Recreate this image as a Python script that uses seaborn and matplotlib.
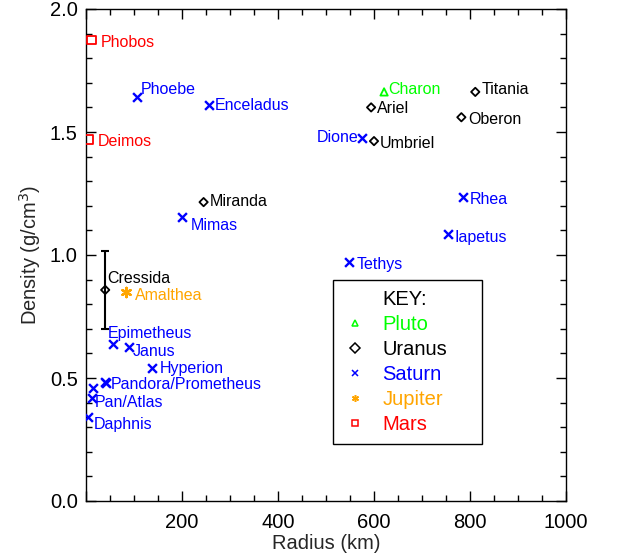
import pandas as pd
import seaborn as sns
import matplotlib.pyplot as plt
from matplotlib.lines import Line2D
from matplotlib.ticker import MultipleLocator

# moon data
moons = ['Phobos', 'Deimos',
         'Phoebe', 'Enceladus', 'Dione', 'Mimas', 'Rhea', 'Iapetus', 'Tethys',
         'Epimetheus', 'Janus', 'Hyperion', 'Pandora', 'Prometheus', 'Atlas', 'Pan', 'Daphnis',
         'Titania', 'Ariel', 'Oberon', 'Umbriel', 'Miranda', 'Cressida',
         'Charon', 'Amalthea']
radius = [11, 6,
          107, 257, 576, 201, 785, 755, 548,
          57, 90, 138, 40, 42, 14.5, 12.5, 3.8,
          811, 594, 782, 600, 245, 40,
          621, 84]
density = [1.874, 1.47,
           1.642, 1.61, 1.476, 1.154, 1.236, 1.085, 0.97,
           0.638, 0.626, 0.54, 0.484, 0.478, 0.46, 0.42, 0.34,
           1.663, 1.60, 1.56, 1.463, 1.215, 0.858,
           1.663, 0.85]
planet = ['Mars'] * 2 + ['Saturn'] * 15 + ['Uranus'] * 6 + ['Pluto', 'Jupiter']
point_labels = ['Phobos', 'Deimos',
                'Phoebe', 'Enceladus', 'Dione', 'Mimas', 'Rhea', 'Iapetus', 'Tethys',
                'Epimetheus', 'Janus', 'Hyperion', 'Pandora/Prometheus', '', '', 'Pan/Atlas', 'Daphnis',
                'Titania', 'Ariel', 'Oberon', 'Umbriel', 'Miranda', 'Cressida',
                'Charon', 'Amalthea']
cressida_err = 0.16

key_order = ['Pluto', 'Uranus', 'Saturn', 'Jupiter', 'Mars']

df = pd.DataFrame({'moon': moons, 'radius': radius, 'density': density,
                   'planet': planet, 'label': point_labels})

# styles
colors = {'Pluto': '#00ff00', 'Uranus': 'black', 'Saturn': '#0000ff',
          'Jupiter': '#ffa500', 'Mars': '#ff0000'}
markers = {'Pluto': '^', 'Uranus': 'D', 'Saturn': 'x', 'Jupiter': (6, 2, 0), 'Mars': 's'}
sizes = {'Pluto': 28, 'Uranus': 18, 'Saturn': 40, 'Jupiter': 45, 'Mars': 38}
filled = {'Pluto': False, 'Uranus': False, 'Saturn': True, 'Jupiter': True, 'Mars': False}

# label offsets in pixels (dx, dy, ha)
offsets = {'Phobos': (9, -3, 'left'), 'Deimos': (9, -2, 'left'), 'Phoebe': (3, 8, 'left'),
           'Enceladus': (5, -1, 'left'), 'Dione': (-4, 0, 'right'), 'Mimas': (8, -8, 'left'),
           'Rhea': (7, -3, 'left'), 'Iapetus': (6, -3, 'left'), 'Tethys': (8, -2, 'left'),
           'Epimetheus': (-6, 11, 'left'), 'Janus': (4, -4, 'left'), 'Hyperion': (8, 0, 'left'),
           'Pandora': (6, -3, 'left'), 'Pan': (3, -5, 'left'), 'Daphnis': (6, -7, 'left'),
           'Titania': (6, 2, 'left'), 'Ariel': (6, -1, 'left'), 'Oberon': (7, -2, 'left'),
           'Umbriel': (6, -2, 'left'), 'Miranda': (6, 1, 'left'), 'Cressida': (2, 11, 'left'),
           'Charon': (4, 2, 'left'), 'Amalthea': (9, -4, 'left')}

sns.set_style('ticks')
plt.rcParams['font.family'] = ['Liberation Sans', 'DejaVu Sans']

fig, ax = plt.subplots(figsize=(6.17, 5.56), dpi=100)
fig.subplots_adjust(left=86/617, right=566/617, top=1-9/556, bottom=1-501/556)

# Cressida error bar
cr = df[df['moon'] == 'Cressida']
ax.errorbar(cr['radius'], cr['density'], yerr=cressida_err, fmt='none',
            ecolor='black', elinewidth=1.5, capsize=3, capthick=1.5, zorder=2)

for p in key_order:
    sub = df[df['planet'] == p]
    c = colors[p]
    if filled[p]:
        sns.scatterplot(data=sub, x='radius', y='density', marker=markers[p], color=c,
                        s=sizes[p], linewidth=1.7, ax=ax, zorder=3)
    else:
        sns.scatterplot(data=sub, x='radius', y='density', marker=markers[p],
                        facecolor='none', edgecolor=c, s=sizes[p], linewidth=1.3,
                        ax=ax, zorder=3)
    for _, r in sub.iterrows():
        if r['label'] == '':
            continue
        dx, dy, ha = offsets[r['moon']]
        ax.annotate(r['label'], (r['radius'], r['density']), xytext=(dx, dy),
                    textcoords='offset pixels', ha=ha, va='center',
                    fontsize=11.5, color=c, annotation_clip=False)

ax.set_xlim(0, 1000)
ax.set_ylim(0, 2.0)
ax.set_xticks([0, 200, 400, 600, 800, 1000])
ax.set_xticklabels(['', '200', '400', '600', '800', '1000'])
ax.set_yticks([0.0, 0.5, 1.0, 1.5, 2.0])
ax.set_yticklabels(['0.0', '0.5', '1.0', '1.5', '2.0'])
ax.xaxis.set_minor_locator(MultipleLocator(50))
ax.yaxis.set_minor_locator(MultipleLocator(0.1))
ax.tick_params(which='both', direction='in', top=True, right=True,
               labelsize=14.5, colors='black', width=1)
ax.tick_params(which='major', length=7)
ax.tick_params(which='minor', length=4)
ax.tick_params(axis='x', pad=9)
ax.tick_params(axis='y', pad=6)
for sp in ax.spines.values():
    sp.set_visible(True)
    sp.set_linewidth(1)
    sp.set_color('black')

ax.set_xlabel('Radius (km)', fontsize=14.5, labelpad=1)
ax.set_ylabel('Density (g/cm$^3$)', fontsize=14.5, labelpad=5)

# key box
handles = [Line2D([], [], linestyle='none')]
labels = ['KEY:']
for p in key_order:
    handles.append(Line2D([], [], linestyle='none', marker=markers[p],
                          markersize=5, markeredgewidth=1.1,
                          markerfacecolor=colors[p] if filled[p] else 'none',
                          markeredgecolor=colors[p]))
    labels.append(p)
leg = ax.legend(handles, labels, loc='upper left',
                bbox_to_anchor=(0.515, 0.124, 0.31, 0.325), mode='expand',
                fontsize=14.5, frameon=True, fancybox=False, edgecolor='black',
                framealpha=1, handlelength=1.2, handletextpad=0.75, borderpad=0.5,
                labelspacing=0.3, borderaxespad=0)
leg.get_frame().set_linewidth(1)
for t, lab in zip(leg.get_texts(), labels):
    t.set_color(colors.get(lab, 'black'))

fig.savefig('out.png', dpi=100)
